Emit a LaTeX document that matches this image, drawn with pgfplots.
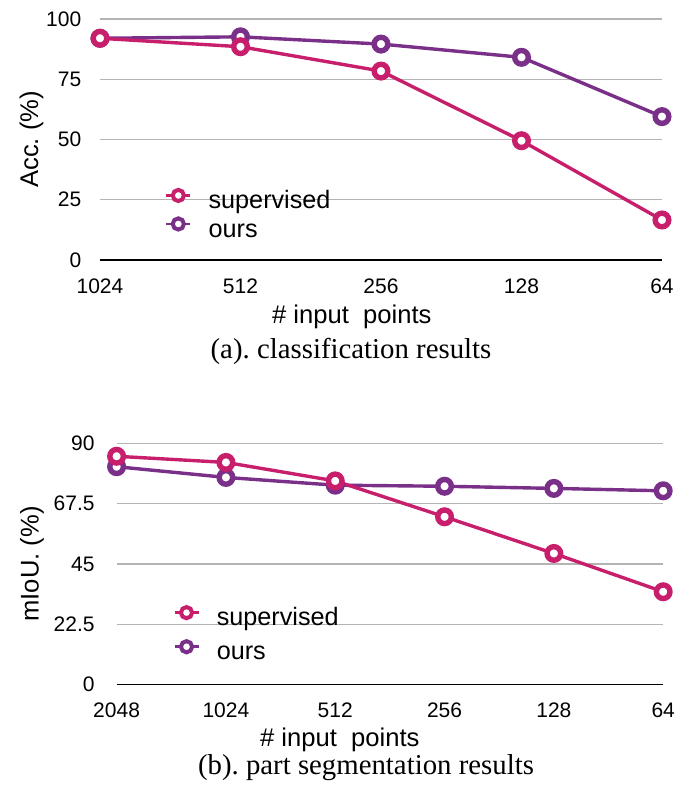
\documentclass[border=0pt]{standalone}
\usepackage{fontspec}
\setmainfont{Liberation Sans}
\newfontfamily\capfont{Liberation Serif}
\usepackage{pgfplots}
\pgfplotsset{compat=1.18}
\definecolor{supcol}{HTML}{C71F6C}
\definecolor{ourcol}{HTML}{7A2F88}
\definecolor{gridgray}{HTML}{B4B4B4}
\frenchspacing

\pgfplotsset{
  resline/.style={line width=1.7pt, mark=*, mark size=3.4pt,
      mark options={fill=white, line width=2.7pt}},
  resultplot/.style={
    scale only axis,
    clip=false,
    axis x line*=bottom,
    axis y line*=left,
    x axis line style={-, black, line width=0.6pt},
    y axis line style={draw=none},
    major tick length=0pt,
    ymajorgrids,
    grid style={gridgray, line width=0.6pt},
    xtick=data,
    /pgf/number format/assume math mode=true,
    tick label style={font=\fontsize{10.5}{12}\selectfont},
    xticklabel style={anchor=north, inner sep=0pt, yshift=-9pt},
    yticklabel style={anchor=east, inner sep=0pt},
    label style={font=\fontsize{12.8}{14}\selectfont},
    reverse legend,
    legend cell align=left,
    legend style={draw=none, fill=none, inner sep=0pt, outer sep=0pt,
      anchor=north west, column sep=8.5pt,
      font=\fontsize{12.6}{14}\selectfont,
      nodes={inner sep=0pt, text height=9pt, text depth=2.7pt}},
    legend image code/.code={
      \draw[line width=1.3pt, mark repeat=2, mark phase=2, mark size=2.8pt,
        mark options={fill=white, line width=2pt}]
        plot coordinates {(0pt,3.4pt) (6pt,3.4pt) (12pt,3.4pt)};
    },
  },
}

\begin{document}
\begin{tikzpicture}
\useasboundingbox (0,0) rectangle (349.5pt,400pt);

% (a) classification
\begin{axis}[
    resultplot,
    at={(50pt,270pt)}, anchor=south west,
    width=281pt, height=120.5pt,
    xmin=0, xmax=4,
    ymin=0, ymax=100,
    ytick={0,25,50,75,100},
    xticklabels={1024,512,256,128,64},
    yticklabel style={xshift=-9.2pt},
    ylabel={Acc. (\%)},
    ylabel style={at={(axis description cs:-0.1217,0.5)}, anchor=center},
    xlabel={\# input\ \ points},
    xlabel style={at={(axis description cs:0.448,0)}, anchor=center, yshift=-28.5pt},
    legend style={at={(axis description cs:0.1157,0.291)}, row sep=2.2pt},
]
\addplot[ourcol, resline] coordinates {(0,92.0) (1,92.6) (2,89.6) (3,84.1) (4,59.5)};
\addplot[supcol, resline] coordinates {(0,92.0) (1,88.5) (2,78.4) (3,49.5) (4,16.6)};
\legend{ours, supervised}
\end{axis}

% (b) part segmentation
\begin{axis}[
    resultplot,
    at={(58.3pt,57.8pt)}, anchor=south west,
    width=273.3pt, height=120.5pt,
    xmin=0, xmax=5,
    ymin=0, ymax=90,
    ytick={0,22.5,45,67.5,90},
    xticklabels={2048,1024,512,256,128,64},
    yticklabel style={xshift=-10.8pt},
    ylabel={mIoU. (\%)},
    ylabel style={at={(axis description cs:-0.1548,0.5)}, anchor=center},
    xlabel={\# input\ \ points},
    xlabel style={at={(axis description cs:0.4085,0)}, anchor=center, yshift=-27.8pt},
    legend style={at={(axis description cs:0.1036,0.321)}, row sep=5pt},
]
\addplot[ourcol, resline] coordinates {(0,81.3) (1,77.3) (2,74.4) (3,74.0) (4,73.2) (5,72.3)};
\addplot[supcol, resline] coordinates {(0,85.2) (1,82.9) (2,76.0) (3,62.6) (4,48.9) (5,34.6)};
\legend{ours, supervised}
\end{axis}

\node[font=\capfont\fontsize{14.4}{16}\selectfont] at (175.5pt,224.5pt) {(a). classification results};
\node[font=\capfont\fontsize{14.4}{16}\selectfont] at (183pt,16pt) {(b). part segmentation results};
\end{tikzpicture}
\end{document}
